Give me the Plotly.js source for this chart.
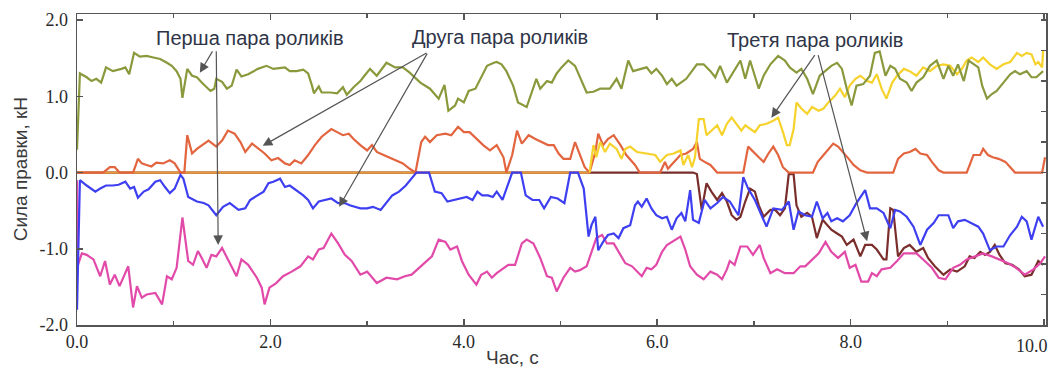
<!DOCTYPE html>
<html>
<head>
<meta charset="utf-8">
<script src="https://cdn.plot.ly/plotly-3.0.1.min.js"></script>
<style>html,body{margin:0;padding:0;background:#fff;}#chart{width:1052px;height:376px;}</style>
</head>
<body>
<div id="chart"></div>
<script>
// ---- Data (time, s  /  force, kN) ----
const greenT = [0,0.03,0.10,0.15,0.20,0.25,0.30,0.37,0.46,0.50,0.54,0.59,0.65,0.72,0.79,0.86,0.93,0.98,1.03,1.07,1.09,1.12,1.14,1.19,1.24,1.29,1.34,1.38,1.42,1.44,1.50,1.55,1.60,1.65,1.70,1.77,1.87,1.96,2.03,2.10,2.15,2.20,2.27,2.34,2.39,2.43,2.45,2.50,2.53,2.62,2.69,2.75,2.79,2.86,2.93,
  2.96,3.03,3.10,3.20,3.29,3.37,3.44,3.55,3.65,3.74,3.80,3.84,3.91,3.94,4.00,4.05,4.12,4.17,4.24,4.31,4.34,4.39,4.44,4.51,4.56,4.65,4.70,4.75,4.79,4.86,4.91,4.96,5.01,5.08,5.15,5.20,5.27,5.34,5.41,5.51,5.58,5.63,5.70,5.75,5.82,5.89,5.94,5.99,6.05,6.10,6.15,6.20,6.30,6.41,
  6.48,6.55,6.60,6.65,6.72,6.79,6.86,6.91,6.96,7.05,7.10,7.17,7.25,7.32,7.37,7.44,7.49,7.55,7.61,7.68,7.74,7.80,7.86,7.91,7.96,8.01,8.06,8.13,8.20,8.25,8.30,8.36,8.41,8.46,8.51,8.58,8.63,8.68,8.75,8.82,8.89,8.96,9.01,9.06,9.11,9.17,9.22,9.27,9.32,9.36,9.41,9.46,9.51,9.58,9.65,9.70,9.75,9.82,9.87,9.92,9.99];
const greenV = [0.30,1.30,1.25,1.20,1.23,1.18,1.38,1.33,1.36,1.38,1.29,1.57,1.52,1.53,1.51,1.49,1.44,1.40,1.33,1.23,0.98,1.18,1.36,1.27,1.25,1.18,1.12,1.07,1.10,1.23,1.19,1.10,1.14,1.35,1.26,1.29,1.36,1.40,1.36,1.37,1.38,1.33,1.33,1.35,1.30,1.14,1.04,1.13,1.05,1.05,1.04,1.12,1.02,1.12,1.20,
  1.25,1.36,1.27,1.44,1.38,1.38,1.31,1.18,1.10,0.97,1.15,0.81,0.88,0.97,0.92,1.07,1.10,1.23,1.40,1.44,1.45,1.42,1.33,1.14,0.92,0.86,1.05,1.23,1.10,1.20,1.18,1.30,1.38,1.47,1.40,1.25,1.05,1.06,1.10,1.10,1.23,1.10,1.47,1.33,1.36,1.38,1.30,1.36,1.27,1.16,1.23,1.14,1.23,1.42,
  1.42,1.33,1.25,1.40,1.18,1.33,1.47,1.23,1.47,1.10,1.27,1.42,1.53,1.47,1.38,1.31,1.36,1.23,1.03,1.27,1.33,1.40,1.44,1.36,1.10,0.88,1.14,1.16,1.27,1.57,1.59,1.27,1.40,1.36,1.23,1.18,1.07,1.18,1.25,1.40,1.47,1.23,1.40,1.27,1.42,1.20,1.47,1.42,1.38,1.14,0.97,1.03,1.07,1.18,1.29,1.33,1.29,1.33,1.25,1.25,1.33];

const redT = [0,0.27,0.34,0.39,0.44,0.58,0.63,0.67,0.72,0.77,0.82,0.89,0.96,1.01,1.07,1.11,1.14,1.19,1.24,1.29,1.36,1.44,1.50,1.56,1.63,1.69,1.74,1.81,1.87,1.94,2.01,2.08,2.15,2.20,2.25,2.32,2.39,2.46,2.53,2.63,2.69,2.75,2.81,2.86,2.93,3.00,3.05,3.10,3.17,3.27,3.37,3.44,3.50,3.56,3.60,3.65,3.72,3.81,3.87,3.94,4.00,4.06,4.13,4.20,4.27,4.34,4.41,4.44,4.50,4.55,4.60,4.67,4.74,4.81,4.87,4.93,4.98,5.03,5.10,5.15,5.20,5.25,5.30,5.36,5.39,5.44,5.49,5.55,5.62,5.68,5.77,5.82,6.03,6.08,6.11,6.17,6.24,6.30,6.37,6.41,6.44,6.49,6.55,6.62,6.89,6.94,6.99,7.05,7.10,7.15,7.20,7.25,7.30,7.36,7.61,7.66,7.72,7.77,7.82,7.87,7.92,7.98,8.03,8.10,8.17,8.44,8.49,8.55,8.61,8.67,8.72,8.79,8.84,8.91,8.96,9.20,9.27,9.34,9.37,9.42,9.47,9.53,9.60,9.65,9.70,9.98,10.01];
const redV = [0,0,0.07,0.07,0,0,0.18,0.12,0.10,0.08,0.13,0.12,0.16,0.12,0,0,0.49,0.25,0.31,0.36,0.42,0.34,0.42,0.55,0.51,0.40,0.27,0.38,0.32,0.25,0.16,0.19,0.12,0.10,0.16,0.12,0.23,0.36,0.47,0.57,0.53,0.49,0.51,0.44,0.36,0.29,0.36,0.27,0.23,0.18,0.12,0.05,0,0.40,0.47,0.40,0.49,0.51,0.49,0.60,0.53,0.53,0.44,0.36,0.29,0.36,0.20,0,0.23,0.55,0.38,0.49,0.44,0.40,0.36,0.36,0.25,0.18,0.18,0.40,0.23,0.07,0,0.27,0.51,0.36,0.44,0.49,0.36,0.23,0.10,0,0,0.14,0.05,0.14,0.23,0.25,0.31,0.40,0.18,0.14,0.10,0,0,0.34,0.27,0.20,0.14,0.25,0.34,0.23,0.07,0,0,0.14,0.23,0.31,0.38,0.34,0.27,0.18,0.10,0.03,0,0,0.18,0.25,0.27,0.31,0.25,0.23,0.14,0.03,0,0,0.23,0.23,0.31,0.23,0.20,0.18,0.14,0.07,0,0,0.20];

const idleT = [0,5.30];
const idleV = [0,0];

const yellowT = [5.30,5.34,5.37,5.41,5.46,5.51,5.58,5.63,5.67,5.72,5.79,5.89,5.98,6.03,6.10,6.17,6.24,6.27,6.32,6.36,6.39,6.43,6.48,6.51,6.56,6.62,6.67,6.72,6.77,6.82,6.87,6.91,6.96,7.01,7.06,7.13,7.20,7.25,7.30,7.34,7.37,7.41,7.44,7.49,7.55,7.60,7.67,7.72,7.77,7.84,7.89,7.94,7.99,8.05,8.10,8.17,8.22,8.27,8.32,8.37,8.43,8.48,8.55,8.61,8.68,8.75,8.82,8.89,8.96,9.03,9.10,9.15,9.20,9.25,9.32,9.37,9.44,9.51,9.58,9.65,9.72,9.77,9.82,9.87,9.91,9.94,9.98,9.99];
const yellowV = [0,0.36,0.20,0.40,0.27,0.38,0.31,0.18,0.31,0.34,0.27,0.25,0.23,0.14,0.23,0.25,0.29,0.10,0.23,0.07,0.20,0.70,0.70,0.49,0.55,0.62,0.49,0.64,0.72,0.64,0.55,0.62,0.57,0.53,0.62,0.64,0.68,0.72,0.53,0.36,0.36,0.57,0.92,0.84,0.77,0.86,0.81,0.84,0.92,1.01,1.10,0.99,1.14,1.23,1.27,1.20,1.18,1.29,1.10,0.97,1.18,1.27,1.36,1.33,1.27,1.38,1.33,1.40,1.42,1.40,1.29,1.36,1.47,1.51,1.45,1.51,1.42,1.36,1.42,1.45,1.57,1.53,1.57,1.55,1.42,1.45,1.38,1.60];

const blueT = [0,0.03,0.10,0.19,0.24,0.30,0.37,0.43,0.50,0.55,0.59,0.63,0.69,0.74,0.81,0.86,0.91,0.96,1.01,1.07,1.10,1.15,1.24,1.31,1.36,1.44,1.51,1.58,1.67,1.74,1.79,1.86,1.93,1.98,2.03,2.10,2.15,2.20,2.27,2.34,2.39,2.44,2.50,2.56,2.63,2.70,2.77,2.82,2.93,3.00,3.06,3.14,3.20,3.26,3.33,3.40,3.51,3.64,3.70,3.77,3.83,3.89,3.96,4.03,4.09,4.14,4.19,4.25,4.30,4.34,4.40,4.45,4.50,4.59,4.64,4.71,4.78,4.83,4.90,4.97,5.04,5.10,5.18,5.24,5.29,5.32,5.36,5.39,5.44,5.49,5.55,5.60,5.65,5.72,5.77,5.80,5.84,5.89,5.94,5.99,6.05,6.10,6.15,6.20,6.25,6.29,6.34,6.37,6.43,6.49,6.55,6.62,6.68,6.75,6.84,6.89,6.94,7.01,7.06,7.13,7.20,7.29,7.36,7.41,7.46,7.53,7.60,7.65,7.71,7.76,7.80,7.86,7.92,7.99,8.06,8.15,8.20,8.27,8.34,8.41,8.46,8.51,8.58,8.65,8.72,8.79,8.86,8.91,8.96,9.01,9.06,9.11,9.18,9.25,9.32,9.37,9.44,9.51,9.58,9.65,9.72,9.77,9.82,9.87,9.94,9.99];
const blueV = [-1.80,-0.10,-0.17,-0.25,-0.21,-0.17,-0.17,-0.16,-0.12,-0.21,-0.19,-0.33,-0.25,-0.22,-0.12,-0.10,-0.19,-0.27,-0.21,-0.03,-0.08,-0.32,-0.38,-0.40,-0.43,-0.56,-0.45,-0.40,-0.49,-0.47,-0.36,-0.30,-0.25,-0.14,-0.12,-0.08,-0.19,-0.17,-0.23,-0.30,-0.36,-0.47,-0.38,-0.36,-0.34,-0.40,-0.40,-0.43,-0.47,-0.47,-0.45,-0.49,-0.40,-0.30,-0.25,-0.17,0,0,-0.25,-0.27,-0.38,-0.36,-0.34,-0.32,-0.36,-0.25,-0.30,-0.30,-0.32,-0.25,-0.36,-0.17,0,0,-0.30,-0.36,-0.36,-0.47,-0.32,-0.34,-0.40,0,0,-0.21,-0.84,-0.69,-0.58,-1.02,-0.91,-0.82,-0.80,-0.86,-0.73,-0.69,-0.43,-0.38,-0.45,-0.34,-0.47,-0.56,-0.60,-0.58,-0.75,-0.60,-0.53,-0.64,-0.23,-0.62,-0.66,-0.36,-0.47,-0.40,-0.32,-0.38,-0.56,-0.06,-0.21,-0.36,-0.51,-0.71,-0.47,-0.49,-0.38,-0.75,-0.51,-0.56,-0.58,-0.38,-0.60,-0.53,-0.64,-0.60,-0.64,-0.56,-0.40,-0.23,-0.47,-0.47,-0.53,-0.73,-0.49,-0.51,-0.58,-0.71,-0.95,-0.75,-0.66,-0.56,-0.56,-0.56,-0.73,-0.64,-0.62,-0.66,-0.71,-0.80,-1.02,-0.97,-0.97,-0.82,-0.71,-0.58,-0.64,-0.88,-0.58,-0.71];

const pinkT = [0,0.01,0.05,0.10,0.17,0.24,0.29,0.34,0.39,0.44,0.53,0.58,0.62,0.67,0.72,0.81,0.88,0.93,0.98,1.03,1.09,1.15,1.20,1.25,1.29,1.34,1.39,1.44,1.50,1.55,1.60,1.65,1.70,1.77,1.86,1.91,1.94,1.99,2.06,2.13,2.22,2.31,2.39,2.44,2.50,2.55,2.63,2.70,2.77,2.84,2.93,3.00,3.10,3.20,3.31,3.39,3.46,3.56,3.67,3.74,3.81,3.86,3.93,3.98,4.05,4.13,4.18,4.24,4.29,4.34,4.41,4.46,4.53,4.60,4.65,4.72,4.79,4.86,4.91,4.96,5.03,5.10,5.15,5.20,5.27,5.32,5.37,5.43,5.48,5.55,5.60,5.67,5.74,5.79,5.84,5.89,5.94,5.99,6.05,6.10,6.15,6.18,6.24,6.29,6.34,6.41,6.48,6.55,6.62,6.67,6.72,6.75,6.80,6.86,6.93,6.99,7.06,7.10,7.17,7.24,7.32,7.41,7.48,7.53,7.60,7.67,7.74,7.80,7.87,7.94,7.99,8.05,8.11,8.18,8.22,8.27,8.32,8.41,8.48,8.55,8.61,8.68,8.75,8.84,8.91,8.98,9.06,9.13,9.20,9.29,9.37,9.46,9.54,9.63,9.71,9.80,9.89,9.96,10.01];
const pinkV = [-0.10,-1.21,-1.06,-1.08,-1.14,-1.36,-1.16,-1.47,-1.34,-1.49,-1.23,-1.77,-1.49,-1.64,-1.60,-1.58,-1.73,-1.36,-1.40,-1.25,-0.59,-1.16,-1.21,-1.03,-1.12,-1.25,-1.08,-1.10,-0.99,-1.12,-1.25,-1.36,-1.14,-1.21,-1.38,-1.51,-1.73,-1.51,-1.45,-1.36,-1.30,-1.23,-1.10,-1.14,-1.01,-0.99,-0.80,-0.93,-1.08,-1.16,-1.34,-1.30,-1.45,-1.38,-1.40,-1.36,-1.34,-1.23,-1.10,-0.88,-0.91,-1.01,-0.97,-1.16,-1.34,-1.47,-1.34,-1.30,-1.38,-1.32,-1.25,-1.21,-1.21,-0.93,-0.88,-0.93,-1.12,-1.36,-1.38,-1.56,-1.38,-1.25,-1.30,-1.28,-1.23,-1.04,-0.86,-0.82,-0.93,-0.93,-1.04,-1.19,-1.23,-1.30,-1.36,-1.25,-1.27,-1.21,-1.04,-0.95,-0.91,-0.88,-0.84,-1.01,-1.23,-1.34,-1.40,-1.30,-1.34,-1.40,-1.27,-1.16,-1.21,-0.97,-0.97,-1.08,-0.95,-1.12,-1.32,-1.27,-1.32,-1.32,-1.23,-1.23,-1.14,-1.06,-0.91,-1.04,-1.12,-1.04,-1.25,-1.21,-1.43,-1.43,-1.32,-1.36,-1.27,-1.25,-1.16,-1.06,-1.06,-1.06,-1.14,-1.25,-1.38,-1.40,-1.25,-1.21,-1.14,-1.10,-1.06,-1.10,-1.14,-1.19,-1.25,-1.34,-1.27,-1.19,-1.10];

const brownT = [0,6.37,6.41,6.46,6.51,6.56,6.62,6.67,6.72,6.77,6.82,6.86,6.91,6.96,7.01,7.05,7.10,7.17,7.22,7.27,7.32,7.36,7.41,7.44,7.49,7.55,7.60,7.65,7.71,7.76,7.80,7.86,7.91,7.96,8.03,8.10,8.15,8.22,8.27,8.34,8.37,8.41,8.44,8.49,8.55,8.61,8.68,8.75,8.80,8.87,8.96,9.03,9.10,9.18,9.23,9.28,9.34,9.39,9.44,9.49,9.54,9.60,9.67,9.74,9.80,9.87,9.94,9.99];
const brownV = [0,0,-0.02,-0.49,-0.14,-0.25,-0.36,-0.27,-0.38,-0.56,-0.62,-0.58,-0.38,-0.21,-0.25,-0.43,-0.58,-0.49,-0.49,-0.56,-0.47,-0.02,-0.02,-0.43,-0.58,-0.53,-0.58,-0.86,-0.62,-0.69,-0.75,-0.80,-0.84,-0.95,-0.88,-1.10,-0.95,-0.95,-1.01,-1.14,-1.14,-0.47,-0.49,-1.10,-0.99,-0.95,-1.04,-0.99,-1.12,-1.23,-1.34,-1.27,-1.30,-1.23,-1.10,-1.12,-1.04,-1.08,-1.04,-0.95,-1.08,-1.19,-1.21,-1.27,-1.36,-1.34,-1.16,-1.21];

// annotation labels and the points their arrows indicate [tipT, tipV, tailT, tailV]
const labels = [
  {text: 'Перша пара роликів', t: 1.79, v: 1.77},
  {text: 'Друга пара роликів', t: 4.37, v: 1.78},
  {text: 'Третя пара роликів', t: 7.63, v: 1.74}
];
const arrows = [
  [1.27, 1.31, 1.41, 1.61],
  [1.46, -0.95, 1.44, 1.61],
  [1.92, 0.35, 3.63, 1.58],
  [2.71, -0.45, 3.63, 1.58],
  [7.18, 0.72, 7.64, 1.56],
  [8.17, -0.90, 7.66, 1.56]
];

const yTickVals = [-2, -1, 0, 1, 2];
const yTickText = ['-2.0', '-1.0', '0.0', '1.0', '2.0'];
const xTickVals = [0, 2, 4, 6, 8, 10];
const xTickText = ['0.0', '2.0', '4.0', '6.0', '8.0', '10.0'];
const xMinorTicks = [1, 3, 5, 7, 9];
const xTitle = 'Час, с';
const yTitle = 'Сила правки, кН';

function line(x, y, color, w) {
  return {x: x, y: y, type: 'scatter', mode: 'lines', line: {color: color, width: w || 2.2}, hoverinfo: 'skip', showlegend: false};
}

const traces = [
  line(brownT, brownV, '#7a2e2c'),
  line(idleT, idleV, '#e39a3c'),
  line(redT, redV, '#e2653f'),
  line(yellowT, yellowV, '#f6d22c'),
  line(greenT, greenV, '#8a993c'),
  line(pinkT, pinkV, '#e24aa9'),
  line(blueT, blueV, '#3f3ff2')
];

const sans = 'Liberation Sans';
const serif = 'Liberation Serif';
const tickFont = {family: serif, size: 18, color: '#2a2a2a'};

const annotations = [];
arrows.forEach(a => annotations.push({
  x: a[0], y: a[1], ax: a[2], ay: a[3], xref: 'x', yref: 'y', axref: 'x', ayref: 'y',
  text: '', showarrow: true, arrowhead: 2, arrowsize: 1.6, arrowwidth: 1.2, arrowcolor: '#555555'
}));
labels.forEach(l => annotations.push({
  x: l.t, y: l.v, xref: 'x', yref: 'y', text: l.text, showarrow: false,
  font: {family: sans, size: 20, color: '#2f3447'}, borderpad: 0
}));
// last x tick label sits flush with the right edge, as in the reference
annotations.push({
  x: 1, xref: 'paper', xanchor: 'right', xshift: 4, y: -0.028, yref: 'paper', yanchor: 'top',
  text: xTickText[xTickText.length - 1], showarrow: false, font: tickFont
});
annotations.push({
  x: (512 - 77) / 969, xref: 'paper', y: -0.103, yref: 'paper', yanchor: 'middle', text: xTitle, showarrow: false,
  font: {family: sans, size: 19, color: '#3a3a3a'}
});
annotations.push({
  x: -0.058, xref: 'paper', y: 0.5, yref: 'paper', xanchor: 'center', yanchor: 'middle', textangle: -90,
  text: yTitle, showarrow: false, font: {family: sans, size: 19, color: '#3a3a3a'}
});

const layout = {
  width: 1052, height: 376,
  margin: {l: 77, r: 6, t: 14, b: 51},
  paper_bgcolor: '#ffffff', plot_bgcolor: '#ffffff',
  font: {family: sans},
  xaxis: {
    range: [0, 10.02], tickvals: xTickVals, ticktext: xTickText.slice(0, -1).concat(['']),
    ticks: 'inside', ticklen: 6, tickwidth: 1.5, tickcolor: '#555',
    minor: {tickvals: xMinorTicks, ticks: 'inside', ticklen: 4, tickcolor: '#555', tickwidth: 1.5},
    showline: true, linecolor: '#555', linewidth: 1.5, mirror: 'ticks',
    showgrid: false, zeroline: false, tickfont: tickFont
  },
  yaxis: {
    range: [-2.0, 2.08], tickvals: yTickVals, ticktext: yTickText,
    ticks: 'inside', ticklen: 6, tickwidth: 1.5, tickcolor: '#555',
    showline: true, linecolor: '#555', linewidth: 1.5, mirror: true,
    showgrid: false, zeroline: false, tickfont: tickFont, ticklabelstandoff: 4
  },
  yaxis2: {
    range: [-2.0, 2.08], overlaying: 'y', side: 'right', dtick: 0.4, tick0: 0,
    ticks: 'inside', ticklen: 5, tickwidth: 1.5, tickcolor: '#555',
    showticklabels: false, showline: false, showgrid: false, zeroline: false
  },
  annotations: annotations,
  showlegend: false
};

traces.push({x: [], y: [], yaxis: 'y2', type: 'scatter', mode: 'lines', showlegend: false, hoverinfo: 'skip'});

Plotly.newPlot('chart', traces, layout, {displayModeBar: false, staticPlot: true});
</script>
</body>
</html>
